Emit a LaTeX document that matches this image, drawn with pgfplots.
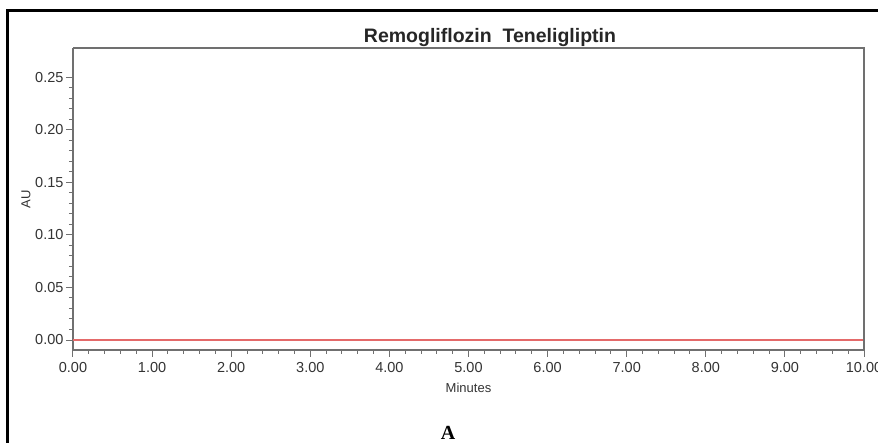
\documentclass[border=0pt]{standalone}
\usepackage{fontspec}
\setmainfont{Liberation Sans}
\newfontfamily\seriffont{Liberation Serif}
\usepackage{pgfplots}
\pgfplotsset{compat=1.18}
\definecolor{axisgray}{HTML}{707070}
\definecolor{traceRed}{HTML}{E46A6A}
\begin{document}
\begin{tikzpicture}[x=1pt,y=1pt]
  \useasboundingbox (0,0) rectangle (878,443);
  % outer frame (left and top edges visible)
  \draw[black, line width=2.5pt] (7.5,0) -- (7.5,432.5) -- (878,432.5);
  \begin{axis}[
      at={(73pt,93pt)}, anchor=south west,
      width=791pt, height=302pt, scale only axis,
      xmin=0, xmax=10,
      ymin=-0.0095, ymax=0.2776,
      xtick={0,1,...,10},
      ytick={0,0.05,0.10,0.15,0.20,0.25},
      minor x tick num=4,
      minor y tick num=4,
      xticklabel={\pgfmathprintnumber[fixed,fixed zerofill,precision=2]{\tick}},
      yticklabel={\pgfmathprintnumber[fixed,fixed zerofill,precision=2]{\tick}},
      /pgf/number format/assume math mode=true,
      tick label style={font=\fontsize{14.5}{16}\selectfont, text=black!80},
      xticklabel style={yshift=-2pt},
      yticklabel style={xshift=1pt},
      tick align=outside,
      major tick length=7pt,
      minor tick length=4pt,
      axis line style={axisgray, line width=1.3pt},
      every tick/.style={axisgray, line width=1pt},
      xtick pos=bottom, ytick pos=left,
      axis x line*=bottom, axis y line*=left,
      xlabel={Minutes},
      ylabel={AU},
      label style={font=\fontsize{13}{15}\selectfont, text=black!80},
      xlabel style={yshift=-3pt},
      ylabel style={yshift=-2pt},
      clip=false,
    ]
    \addplot[traceRed, line width=2pt] coordinates {
      (0,0) (2,0) (4,0) (6,0) (8,0) (10,0)
    };
  \end{axis}
  % top and right edges of the plot box
  \draw[axisgray, line width=1.3pt] (73,395) -- (864,395) -- (864,93);
  \node[font=\bfseries\fontsize{19.5}{22}\selectfont, text=black!85] at (490,405) {Remogliflozin\ \ Teneligliptin};
  \node[font=\seriffont\bfseries\fontsize{20}{22}\selectfont] at (448,10) {A};
\end{tikzpicture}
\end{document}
